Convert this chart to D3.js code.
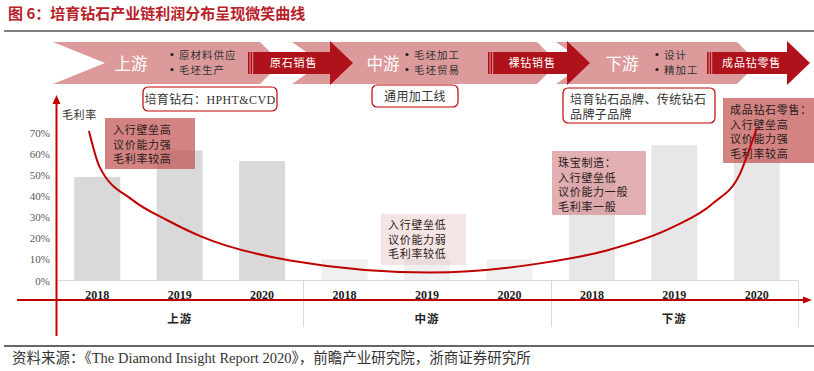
<!DOCTYPE html>
<html>
<head>
<meta charset="utf-8">
<script src="https://cdn.jsdelivr.net/npm/d3@7"></script>
<style>
  html, body { margin: 0; padding: 0; background: #fff; }
  svg { display: block; }
</style>
</head>
<body>
<div id="chart"></div>
<script>
// 数据
const groups = ['上游', '中游', '下游'];
const years = ['2018', '2019', '2020'];
const upstream = [0.49, 0.615, 0.565];
const midstream = [0.10, 0.10, 0.10];
const downstream = [0.50, 0.64, 0.58];
const yTicks = [0, 0.1, 0.2, 0.3, 0.4, 0.5, 0.6, 0.7];

// 产业链阶段
const stages = ['上游', '中游', '下游'];
const stageItems = [['原材料供应', '毛坯生产'], ['毛坯加工', '毛坯贸易'], ['设计', '精加工']];
const flows = ['原石销售', '裸钻销售', '成品钻零售'];
const players = [['培育钻石：HPHT&CVD'], ['通用加工线'], ['培育钻石品牌、传统钻石', '品牌子品牌']];

// 注释
const notes = [
  ['入行壁垒高', '议价能力强', '毛利率较高'],
  ['入行壁垒低', '议价能力弱', '毛利率较低'],
  ['珠宝制造：', '入行壁垒低', '议价能力一般', '毛利率一般'],
  ['成品钻石零售：', '入行壁垒高', '议价能力强', '毛利率较高']
];

// 微笑曲线（横轴：柱位单位，纵轴：毛利率）
const smile = [
  [0.40, 0.707], [0.53, 0.536], [0.93, 0.38], [1.35, 0.285], [1.75, 0.21],
  [2.84, 0.095], [4.54, 0.038], [5.87, 0.081], [6.68, 0.142], [7.48, 0.252],
  [7.97, 0.365], [8.30, 0.508], [8.45, 0.664], [8.50, 0.72]
];

const width = 814, height = 371;
const red = '#c00000';
const cjk = '"Noto Sans CJK SC", sans-serif';
const serif = '"Liberation Serif", "Noto Sans CJK SC", serif';

const svg = d3.select('#chart').append('svg')
  .attr('width', width).attr('height', height);

// 标题
svg.append('text')
  .attr('x', 8).attr('y', 19)
  .attr('font-family', cjk).attr('font-weight', 700).attr('font-size', 15)
  .attr('fill', '#b8202a')
  .text('图 6：培育钻石产业链利润分布呈现微笑曲线');
svg.append('line').attr('x1', 4).attr('x2', 814).attr('y1', 31).attr('y2', 31)
  .attr('stroke', '#808080').attr('stroke-width', 2);

// 刻度
const x0 = 56, x1 = 798;
const cats = [];
groups.forEach(g => years.forEach(y => cats.push(g + '|' + y)));
const values = upstream.concat(midstream, downstream);
const barColors = ['#d9d9d9', '#f0f0f0', '#e7e7e7'];

const x = d3.scaleBand().domain(cats).range([x0, x1])
  .paddingInner(0.442).paddingOuter(0.221);
const xPos = d3.scaleLinear().domain([0, cats.length]).range([x0, x1]);
const y = d3.scaleLinear().domain([0, 0.7]).range([280.5, 132.5]);

// 顶部流程带
const bandTop = 42, bandBot = 84, bandMid = 63;
const segs = [[53, 105, 260, 281], [292, 322, 537, 558], [556, 586, 737, 758]];
segs.forEach(s => {
  svg.append('polygon')
    .attr('points', [[s[0], bandTop], [s[2], bandTop], [s[3], bandMid], [s[2], bandBot], [s[0], bandBot], [s[1], bandMid]].join(' '))
    .attr('fill', '#dc9a9b');
});

const arrowSpans = [[248, 353], [488, 590], [707, 810]];
arrowSpans.forEach((a, i) => {
  const g = svg.append('g');
  g.append('rect').attr('x', a[0]).attr('y', 52).attr('width', 1.6).attr('height', 22).attr('fill', '#b0121b');
  g.append('rect').attr('x', a[0] + 2.6).attr('y', 52).attr('width', 1.6).attr('height', 22).attr('fill', '#b0121b');
  const b = a[0] + 5.2, h = a[1] - 23;
  g.append('polygon')
    .attr('points', [[b, 52], [h, 52], [h, 41], [a[1], 63], [h, 85], [h, 74], [b, 74]].join(' '))
    .attr('fill', '#b0121b');
  g.append('text')
    .attr('x', (b + h) / 2 + 2).attr('y', 67)
    .attr('text-anchor', 'middle')
    .attr('font-family', cjk).attr('font-size', 11).attr('fill', '#fff')
    .attr('letter-spacing', 0.8)
    .text(flows[i]);
});

const stageX = [131, 383, 622];
const bulletX = [172, 407, 657];
stages.forEach((s, i) => {
  svg.append('text')
    .attr('x', stageX[i]).attr('y', 70)
    .attr('text-anchor', 'middle')
    .attr('font-family', cjk).attr('font-size', 16.5).attr('fill', '#fff')
    .text(s);
  stageItems[i].forEach((t, j) => {
    const ty = 58.5 + j * 15;
    svg.append('circle').attr('cx', bulletX[i]).attr('cy', ty - 4).attr('r', 1.6).attr('fill', '#222');
    svg.append('text')
      .attr('x', bulletX[i] + 7).attr('y', ty)
      .attr('font-family', cjk).attr('font-size', 10.5).attr('fill', '#333')
      .attr('letter-spacing', 1)
      .text(t);
  });
});

// 环节说明框
const playerBoxes = [[143, 87, 134, 24], [372, 85, 86, 22], [563, 88, 152, 35]];
players.forEach((lines, i) => {
  const bx = playerBoxes[i];
  svg.append('rect')
    .attr('x', bx[0]).attr('y', bx[1]).attr('width', bx[2]).attr('height', bx[3])
    .attr('rx', 5).attr('fill', '#fff').attr('stroke', red).attr('stroke-width', 1.2);
  lines.forEach((t, j) => {
    svg.append('text')
      .attr('x', lines.length > 1 ? bx[0] + 7 : bx[0] + bx[2] / 2)
      .attr('y', lines.length > 1 ? bx[1] + 16 + j * 15 : bx[1] + bx[3] / 2 + 4.5)
      .attr('text-anchor', lines.length > 1 ? 'start' : 'middle')
      .attr('font-family', serif).attr('font-size', 12).attr('fill', '#333')
      .attr('letter-spacing', 0.4)
      .text(t);
  });
});

// 柱子
svg.append('g').selectAll('rect')
  .data(cats)
  .join('rect')
  .attr('x', d => x(d))
  .attr('width', x.bandwidth())
  .attr('y', (d, i) => y(values[i]))
  .attr('height', (d, i) => y(0) - y(values[i]))
  .attr('fill', (d, i) => barColors[Math.floor(i / 3)]);

// 基线与分组线
svg.append('line').attr('x1', x0).attr('x2', x1).attr('y1', 280.5).attr('y2', 280.5)
  .attr('stroke', '#d9d9d9');
[1, 2, 3].forEach(k => {
  const gx = Math.round(xPos(k * 3)) + 0.5;
  svg.append('line').attr('x1', gx).attr('x2', gx).attr('y1', 280.5).attr('y2', 327)
    .attr('stroke', '#d9d9d9');
});

// 纵轴刻度
const yAxis = svg.append('g')
  .attr('transform', 'translate(50,0)')
  .call(d3.axisLeft(y).tickValues(yTicks).tickFormat(d3.format('.0%')).tickSize(0).tickPadding(0));
yAxis.select('.domain').remove();
yAxis.selectAll('text')
  .attr('font-family', serif).attr('font-size', 11).attr('fill', '#595959');

// 年份与分组标签
svg.append('g').selectAll('text')
  .data(cats)
  .join('text')
  .attr('x', d => x(d) + x.bandwidth() / 2)
  .attr('y', 299)
  .attr('text-anchor', 'middle')
  .attr('font-family', serif).attr('font-weight', 700).attr('font-size', 12).attr('fill', '#222')
  .text(d => d.split('|')[1]);

svg.append('g').selectAll('text')
  .data(groups)
  .join('text')
  .attr('x', (d, i) => xPos(i * 3 + 1.5))
  .attr('y', 323)
  .attr('text-anchor', 'middle')
  .attr('font-family', cjk).attr('font-weight', 700).attr('font-size', 11.5).attr('fill', '#222')
  .attr('letter-spacing', 1)
  .text(d => d);

// 注释框
const noteBoxes = [
  {x: 105, y: 118, w: 90, h: 51, fill: '#c0504d', op: 0.7, tx: 113, ty: 134},
  {x: 381, y: 214, w: 85, h: 51, fill: '#e6b9b8', op: 0.38, tx: 388, ty: 229},
  {x: 552, y: 151, w: 94, h: 64, fill: '#d68f92', op: 0.7, tx: 558, ty: 167},
  {x: 723, y: 98, w: 91, h: 65, fill: '#c0504d', op: 0.7, tx: 730, ty: 114}
];
notes.forEach((lines, i) => {
  const b = noteBoxes[i];
  svg.append('rect').attr('x', b.x).attr('y', b.y).attr('width', b.w).attr('height', b.h)
    .attr('fill', b.fill).attr('fill-opacity', b.op);
  lines.forEach((t, j) => {
    svg.append('text')
      .attr('x', b.tx).attr('y', b.ty + j * 14.5)
      .attr('font-family', cjk).attr('font-size', 11).attr('fill', '#2a1a1a')
      .attr('letter-spacing', 0.7)
      .text(t);
  });
});

// 微笑曲线
svg.append('path')
  .datum(smile)
  .attr('d', d3.line().x(d => xPos(d[0])).y(d => y(d[1])).curve(d3.curveMonotoneX))
  .attr('fill', 'none').attr('stroke', red).attr('stroke-width', 2);

// 坐标轴（红色箭头）
svg.append('line').attr('x1', 56.5).attr('x2', 56.5).attr('y1', 336).attr('y2', 102)
  .attr('stroke', red).attr('stroke-width', 2);
svg.append('polygon').attr('points', '56.5,95 52.5,104 60.5,104').attr('fill', red);
svg.append('line').attr('x1', 17).attr('x2', 805).attr('y1', 300).attr('y2', 300)
  .attr('stroke', red).attr('stroke-width', 2);
svg.append('polygon').attr('points', '812,300 803,296.5 803,303.5').attr('fill', red);

svg.append('text')
  .attr('x', 62).attr('y', 119)
  .attr('font-family', cjk).attr('font-size', 11).attr('fill', '#333')
  .attr('letter-spacing', 0.6)
  .text('毛利率');

// 资料来源
svg.append('line').attr('x1', 4).attr('x2', 814).attr('y1', 346).attr('y2', 346)
  .attr('stroke', '#333').attr('stroke-width', 1.5);
svg.append('text')
  .attr('x', 12).attr('y', 363)
  .attr('font-family', serif).attr('font-size', 14.5).attr('fill', '#333')
  .text('资料来源：《The Diamond Insight Report 2020》，前瞻产业研究院，浙商证券研究所');
</script>
</body>
</html>
